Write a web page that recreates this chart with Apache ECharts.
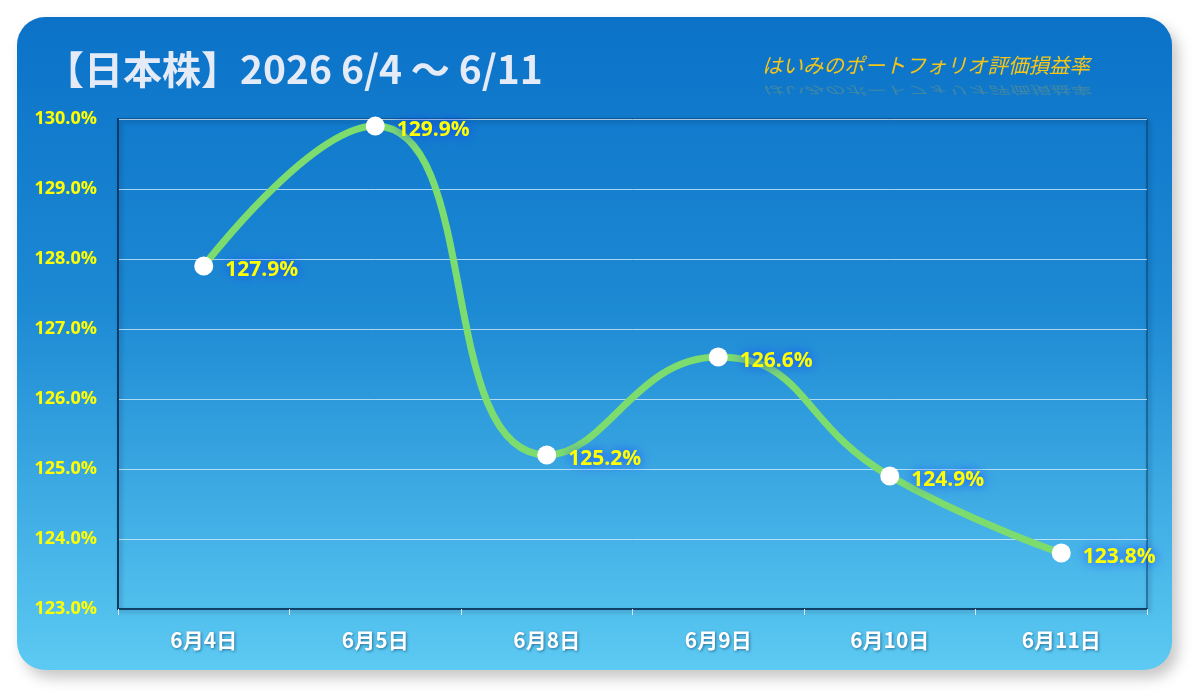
<!DOCTYPE html>
<html>
<head>
<meta charset="utf-8">
<script src="https://cdn.jsdelivr.net/npm/echarts@6/dist/echarts.min.js"></script>
<style>
  html, body { margin: 0; padding: 0; background: #fff; }
  #chart { width: 1200px; height: 697px; }
</style>
</head>
<body>
<div id="chart"></div>
<script>
// data
const days = ['6月4日', '6月5日', '6月8日', '6月9日', '6月10日', '6月11日'];
const rates = [127.9, 129.9, 125.2, 126.6, 124.9, 123.8];
const yMin = 123, yMax = 130, yStep = 1;

const titleText = '【日本株】2026 6/4 ～ 6/11';
const subText = 'はいみのポートフォリオ評価損益率';

const FONT = '"Noto Sans CJK JP", "Open Sans", sans-serif';
const NUMFONT = '"Open Sans", sans-serif';

var myChart = echarts.init(document.getElementById('chart'));

var option = {
    animation: false,
    graphic: [
        {
            // rounded panel behind everything
            type: 'rect',
            z: -10,
            shape: { x: 17, y: 17, width: 1155, height: 653, r: 28 },
            style: {
                fill: new echarts.graphic.LinearGradient(0, 0, 0, 1, [
                    { offset: 0, color: '#0b72c8' },
                    { offset: 0.45, color: '#1d8ad4' },
                    { offset: 1, color: '#5ccaf2' }
                ]),
                shadowBlur: 14,
                shadowOffsetX: 6,
                shadowOffsetY: 8,
                shadowColor: 'rgba(0,0,0,0.22)'
            }
        },
        {
            type: 'text',
            left: 45,
            top: 50,
            style: {
                text: titleText,
                font: 'bold 39px ' + FONT,
                fill: '#e4ebf6',
                shadowBlur: 6,
                shadowOffsetX: 2,
                shadowOffsetY: 2,
                shadowColor: 'rgba(0,30,80,0.6)'
            }
        },
        {
            type: 'text',
            left: 762,
            top: 55,
            style: {
                text: subText,
                font: 'italic 20.5px ' + FONT,
                fill: '#f5c518'
            }
        },
        {
            // faint reflection of the subtitle
            type: 'text',
            x: 762,
            y: 96,
            scaleY: -0.55,
            style: {
                text: subText,
                font: 'italic 20.5px ' + FONT,
                fill: 'rgba(245,197,24,0.22)'
            }
        }
    ],
    grid: {
        left: 118,
        right: 53,
        top: 119,
        bottom: 88,
        show: true,
        backgroundColor: 'transparent',
        borderColor: '#0a3a66',
        borderWidth: 1,
        shadowBlur: 4,
        shadowOffsetX: 2,
        shadowOffsetY: 2,
        shadowColor: 'rgba(0,20,50,0.6)'
    },
    xAxis: {
        type: 'category',
        data: days,
        boundaryGap: true,
        axisLine: { lineStyle: { color: '#123f66', width: 2 } },
        axisTick: { show: true, length: 6, lineStyle: { color: '#d8e6f2' } },
        axisLabel: {
            color: '#ffffff',
            fontFamily: FONT,
            fontWeight: 'bold',
            fontSize: 21,
            margin: 21,
            textShadowColor: 'rgba(0,40,80,0.55)',
            textShadowBlur: 3,
            textShadowOffsetX: 1,
            textShadowOffsetY: 1
        }
    },
    yAxis: {
        type: 'value',
        min: yMin,
        max: yMax,
        interval: yStep,
        axisLine: { show: true, lineStyle: { color: '#0a3a66', width: 2 } },
        axisTick: { show: false },
        axisLabel: {
            color: '#ffff00',
            fontFamily: NUMFONT,
            fontWeight: 'bold',
            fontSize: 18,
            margin: 21,
            formatter: function (v) { return v.toFixed(1) + '%'; }
        },
        splitLine: { lineStyle: { color: 'rgba(220,240,255,0.75)', width: 1 } }
    },
    series: [
        {
            type: 'line',
            data: rates,
            smooth: 0.5,
            symbol: 'circle',
            symbolSize: 19,
            itemStyle: { color: '#ffffff' },
            lineStyle: { color: '#7ddc6e', width: 7 },
            label: {
                show: true,
                position: 'right',
                distance: 12,
                offset: [0, 4],
                color: '#ffff00',
                fontFamily: NUMFONT,
                fontWeight: 'bold',
                fontSize: 21,
                textShadowColor: '#0a3cff',
                textShadowBlur: 12,
                formatter: function (p) { return p.value.toFixed(1) + '%'; }
            }
        }
    ]
};
myChart.setOption(option);
</script>
</body>
</html>
